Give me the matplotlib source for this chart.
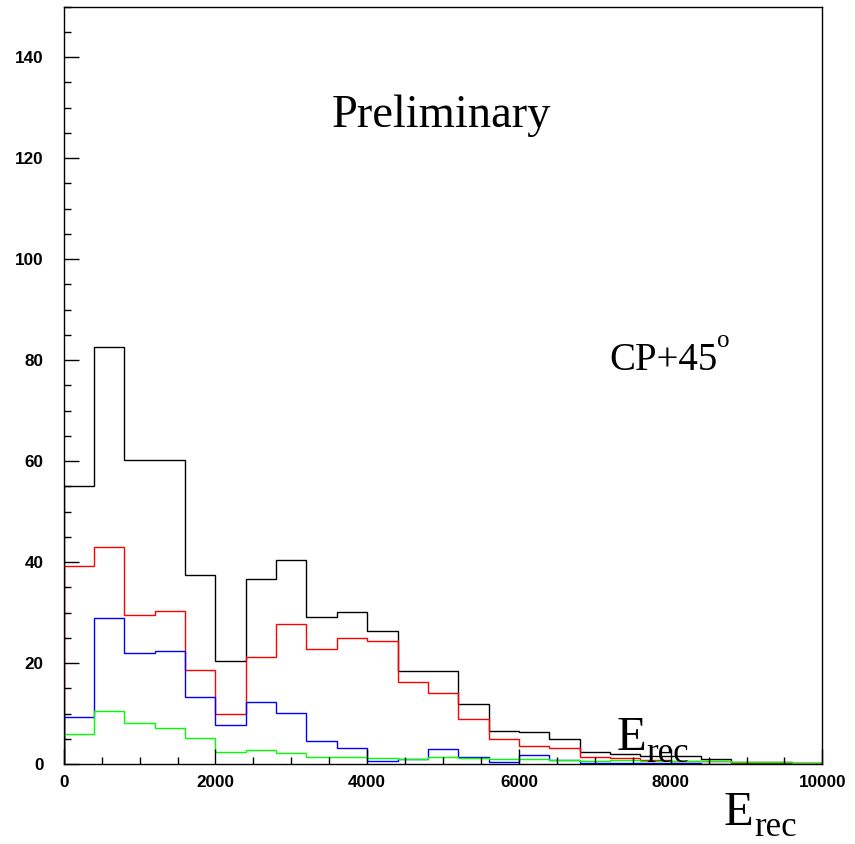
import numpy as np
import matplotlib
matplotlib.use("Agg")
import matplotlib.pyplot as plt
from matplotlib.ticker import MultipleLocator

# Reconstructed-energy histograms, 400-wide bins from 0 to 10000
bin_edges = np.arange(0, 10001, 400)
counts_total = [55.0, 82.6, 60.2, 60.3, 37.4, 20.5, 36.6, 40.5, 29.1, 30.1,
                26.4, 18.5, 18.4, 11.8, 6.6, 6.4, 5.0, 2.3, 2.0, 1.6,
                1.6, 1.0, 0.3, 0.3, 0.1]
counts_red = [39.2, 42.9, 29.6, 30.3, 18.6, 9.9, 21.1, 27.7, 22.8, 25.0,
              24.4, 16.2, 14.1, 8.9, 5.0, 3.6, 3.1, 1.4, 1.1, 0.7,
              0.6, 0.5, 0.2, 0.2, 0.1]
counts_blue = [9.4, 28.9, 21.9, 22.3, 13.2, 7.7, 12.2, 10.1, 4.6, 3.2,
               0.5, 0.9, 2.9, 1.3, 0.3, 1.7, 0.7, 0.1, 0.1, 0.1,
               0.1, 0.0, 0.0, 0.0, 0.0]
counts_green = [6.0, 10.4, 8.2, 7.2, 5.2, 2.4, 2.8, 2.1, 1.3, 1.3,
                1.1, 0.9, 1.3, 1.1, 0.9, 0.95, 0.8, 0.5, 0.7, 0.5,
                0.5, 0.5, 0.3, 0.3, 0.2]

W, H = 855, 844


def fpos(x, y):
    """Pixel position -> figure fraction."""
    return x / W, 1 - y / H


fig = plt.figure(figsize=(W / 100, H / 100), dpi=100)
left, top = fpos(63.7, 6.7)
right, bottom = fpos(822.4, 764)
ax = fig.add_axes([left, bottom, right - left, top - bottom])

for vals, col in [(counts_total, "black"), (counts_red, "#ff0000"),
                  (counts_blue, "#0000ff"), (counts_green, "#00ff00")]:
    ax.stairs(vals, bin_edges, baseline=0, color=col, lw=1.0)

ax.set_xlim(0, 10000)
ax.set_ylim(0, 150)

ax.xaxis.set_major_locator(MultipleLocator(2000))
ax.xaxis.set_minor_locator(MultipleLocator(500))
ax.yaxis.set_major_locator(MultipleLocator(20))
ax.yaxis.set_minor_locator(MultipleLocator(5))

ax.tick_params(which="both", direction="in", top=False, right=False, width=1.0)
ax.tick_params(which="major", length=10.5)
ax.tick_params(which="minor", length=5.2)
ax.tick_params(axis="y", which="major", pad=14.4)
ax.tick_params(axis="x", which="major", pad=8.0)
for lab in ax.get_xticklabels() + ax.get_yticklabels():
    lab.set_fontfamily("Liberation Sans")
    lab.set_fontweight("bold")
    lab.set_fontsize(12.3)

for sp in ax.spines.values():
    sp.set_linewidth(1.0)

serif = "Liberation Serif"

fig.text(*fpos(332, 127), "Preliminary", fontfamily=serif, fontsize=33.5,
         ha="left", va="baseline")

fig.text(*fpos(609, 369.5), "CP+45", fontfamily=serif, fontsize=28,
         ha="left", va="baseline")
fig.text(*fpos(717, 347), "o", fontfamily=serif, fontsize=18,
         ha="left", va="baseline")

# Energy labels: inside the frame and below the axis
for ex, ey, rx, ry in [(617, 750.5, 646, 762.5), (724, 825, 754, 836)]:
    fig.text(*fpos(ex, ey), "E", fontfamily=serif, fontsize=35,
             ha="left", va="baseline")
    fig.text(*fpos(rx, ry), "rec", fontfamily=serif, fontsize=25,
             ha="left", va="baseline")

fig.savefig("out.png", dpi=100)
